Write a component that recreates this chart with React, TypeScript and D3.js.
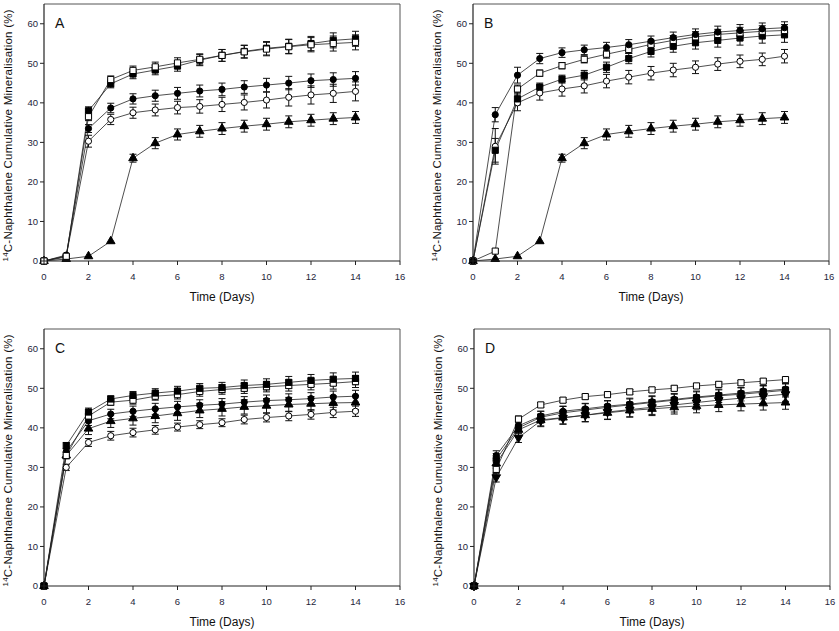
import * as d3 from "d3";

const days = [0, 1, 2, 3, 4, 5, 6, 7, 8, 9, 10, 11, 12, 13, 14];
const xTicks = [0, 2, 4, 6, 8, 10, 12, 14, 16];
const yTicks = [0, 10, 20, 30, 40, 50, 60];

// control (filled triangles) shared by A and B
const control = [0, 0.5, 1.2, 5.0, 26.0, 29.8, 32.0, 32.8, 33.5, 34.1, 34.6, 35.2, 35.6, 36.0, 36.3];
const controlErr = [0, 0.2, 0.3, 0.3, 1.0, 1.4, 1.4, 1.5, 1.5, 1.5, 1.5, 1.5, 1.5, 1.5, 1.5];

// panel A
const aFilledSquare = [0, 1.0, 38.0, 44.8, 47.3, 48.3, 49.3, 50.8, 52.0, 53.0, 53.8, 54.3, 55.0, 55.8, 56.2];
const aFilledSquareErr = [0, 0.3, 1.0, 1.0, 1.2, 1.2, 1.3, 1.4, 1.5, 1.6, 1.7, 1.8, 1.8, 1.9, 1.9];
const aOpenSquare = [0, 1.2, 36.5, 45.9, 48.2, 49.1, 50.1, 51.0, 52.0, 52.9, 53.6, 54.2, 54.7, 55.0, 55.3];
const aOpenSquareErr = [0, 0.3, 1.0, 0.9, 1.1, 1.2, 1.3, 1.4, 1.5, 1.6, 1.7, 1.8, 1.8, 1.9, 1.9];
const aFilledCircle = [0, 1.5, 33.5, 38.7, 41.0, 41.8, 42.4, 43.0, 43.4, 44.0, 44.5, 45.0, 45.6, 45.9, 46.2];
const aFilledCircleErr = [0, 0.3, 1.0, 1.2, 1.3, 1.4, 1.5, 1.5, 1.6, 1.6, 1.7, 1.7, 1.7, 1.7, 1.7];
const aOpenCircle = [0, 1.3, 30.3, 35.8, 37.5, 38.2, 38.8, 39.1, 39.6, 40.1, 40.7, 41.4, 42.0, 42.4, 42.9];
const aOpenCircleErr = [0, 0.3, 1.5, 1.3, 1.4, 1.5, 1.6, 1.7, 1.8, 1.9, 2.0, 2.2, 2.3, 2.3, 2.4];

// panel B
const bFilledCircle = [0, 37.0, 47.0, 51.2, 52.7, 53.4, 54.0, 54.7, 55.6, 56.5, 57.3, 57.9, 58.3, 58.7, 59.0];
const bFilledCircleErr = [0, 1.8, 2.0, 1.3, 1.2, 1.2, 1.3, 1.3, 1.3, 1.4, 1.4, 1.5, 1.5, 1.5, 1.5];
const bOpenSquare = [0, 2.5, 43.5, 47.5, 49.4, 51.0, 52.3, 53.5, 54.8, 55.8, 56.7, 57.3, 57.7, 58.1, 58.3];
const bOpenSquareErr = [0, 0.3, 1.0, 0.8, 0.8, 0.9, 1.0, 1.0, 1.1, 1.2, 1.3, 1.3, 1.4, 1.4, 1.5];
const bFilledSquare = [0, 28.0, 41.0, 44.0, 46.0, 47.0, 49.0, 51.2, 53.0, 54.3, 55.2, 55.8, 56.4, 56.9, 57.2];
const bFilledSquareErr = [0, 3.0, 1.5, 1.0, 1.0, 1.2, 1.3, 1.3, 1.4, 1.5, 1.6, 1.7, 1.8, 1.8, 1.9];
const bOpenCircle = [0, 29.0, 40.0, 42.5, 43.5, 44.3, 45.5, 46.5, 47.5, 48.3, 49.0, 49.8, 50.5, 51.0, 51.8];
const bOpenCircleErr = [0, 4.5, 2.0, 1.8, 1.8, 1.8, 1.7, 1.7, 1.7, 1.7, 1.6, 1.6, 1.6, 1.6, 1.7];

// panel C
const cFilledSquare = [0, 35.5, 44.0, 47.3, 48.2, 48.8, 49.3, 50.0, 50.2, 50.7, 51.0, 51.5, 52.0, 52.3, 52.5];
const cFilledSquareErr = [0, 0.8, 1.0, 0.8, 1.0, 1.1, 1.2, 1.2, 1.3, 1.4, 1.4, 1.5, 1.5, 1.6, 1.6];
const cOpenSquare = [0, 33.0, 43.0, 46.5, 47.0, 48.0, 48.4, 49.2, 49.7, 50.0, 50.4, 50.7, 51.0, 51.3, 51.7];
const cOpenSquareErr = [0, 0.8, 1.0, 0.8, 1.0, 1.0, 1.1, 1.2, 1.2, 1.3, 1.3, 1.4, 1.4, 1.5, 1.5];
const cFilledCircle = [0, 34.0, 41.8, 43.5, 44.2, 44.8, 45.3, 45.7, 46.0, 46.5, 46.9, 47.1, 47.4, 47.8, 48.0];
const cFilledCircleErr = [0, 0.8, 1.2, 1.2, 1.3, 1.4, 1.4, 1.4, 1.4, 1.4, 1.4, 1.5, 1.5, 1.5, 1.5];
const cFilledTriangle = [0, 33.0, 39.8, 41.7, 42.4, 43.0, 43.7, 44.4, 44.8, 45.3, 45.6, 45.9, 46.1, 46.3, 46.4];
const cFilledTriangleErr = [0, 0.8, 1.5, 1.6, 1.7, 1.7, 1.8, 1.8, 1.8, 1.8, 1.8, 1.8, 1.8, 1.8, 1.8];
const cOpenCircle = [0, 30.0, 36.3, 38.0, 38.8, 39.5, 40.2, 40.8, 41.3, 42.1, 42.6, 43.0, 43.4, 43.9, 44.2];
const cOpenCircleErr = [0, 0.8, 1.0, 1.1, 1.1, 1.1, 1.0, 1.0, 1.0, 1.1, 1.1, 1.2, 1.2, 1.3, 1.3];

// panel D
const dOpenSquare = [0, 29.5, 42.2, 45.8, 47.0, 47.9, 48.4, 49.1, 49.6, 50.0, 50.6, 51.0, 51.4, 51.8, 52.2];
const dOpenSquareErr = [0, 1.0, 0.8, 0.6, 0.6, 0.6, 0.6, 0.6, 0.6, 0.6, 0.6, 0.6, 0.6, 0.6, 0.6];
const dFilledSquare = [0, 32.0, 40.0, 42.7, 43.8, 44.5, 45.2, 45.8, 46.4, 47.0, 47.6, 48.1, 48.5, 49.0, 49.5];
const dFilledSquareErr = [0, 1.5, 1.5, 1.5, 1.6, 1.7, 1.7, 1.7, 1.7, 1.7, 1.7, 1.7, 1.7, 1.7, 1.7];
const dFilledCircle = [0, 33.0, 40.5, 43.0, 44.2, 44.8, 45.5, 46.0, 46.6, 47.2, 47.8, 48.3, 48.8, 49.3, 49.8];
const dFilledCircleErr = [0, 1.2, 1.2, 1.2, 1.3, 1.3, 1.3, 1.3, 1.3, 1.3, 1.3, 1.3, 1.3, 1.3, 1.3];
const dFilledDownTriangle = [0, 27.5, 37.5, 41.8, 42.5, 43.2, 44.0, 44.6, 45.2, 45.8, 46.4, 47.0, 47.5, 48.0, 48.5];
const dFilledDownTriangleErr = [0, 1.2, 1.2, 1.5, 1.6, 1.7, 1.8, 1.8, 1.8, 1.8, 1.8, 1.8, 1.8, 1.8, 1.8];
const dFilledTriangle = [0, 31.0, 39.5, 42.0, 42.6, 43.2, 43.8, 44.4, 44.8, 45.2, 45.5, 45.8, 46.0, 46.2, 46.4];
const dFilledTriangleErr = [0, 1.2, 1.5, 1.5, 1.6, 1.6, 1.7, 1.7, 1.7, 1.7, 1.7, 1.7, 1.7, 1.7, 1.7];

type Marker = "filledCircle" | "openCircle" | "filledSquare" | "openSquare" | "filledTriangle" | "filledDownTriangle";
type Series = { marker: Marker; values: number[]; errors: number[] };
type PanelData = { label: string; series: Series[] };

const panels: PanelData[] = [
  {
    label: "A",
    series: [
      { marker: "filledTriangle", values: control, errors: controlErr },
      { marker: "openCircle", values: aOpenCircle, errors: aOpenCircleErr },
      { marker: "filledCircle", values: aFilledCircle, errors: aFilledCircleErr },
      { marker: "filledSquare", values: aFilledSquare, errors: aFilledSquareErr },
      { marker: "openSquare", values: aOpenSquare, errors: aOpenSquareErr },
    ],
  },
  {
    label: "B",
    series: [
      { marker: "filledTriangle", values: control, errors: controlErr },
      { marker: "openCircle", values: bOpenCircle, errors: bOpenCircleErr },
      { marker: "filledSquare", values: bFilledSquare, errors: bFilledSquareErr },
      { marker: "openSquare", values: bOpenSquare, errors: bOpenSquareErr },
      { marker: "filledCircle", values: bFilledCircle, errors: bFilledCircleErr },
    ],
  },
  {
    label: "C",
    series: [
      { marker: "openCircle", values: cOpenCircle, errors: cOpenCircleErr },
      { marker: "filledTriangle", values: cFilledTriangle, errors: cFilledTriangleErr },
      { marker: "filledCircle", values: cFilledCircle, errors: cFilledCircleErr },
      { marker: "openSquare", values: cOpenSquare, errors: cOpenSquareErr },
      { marker: "filledSquare", values: cFilledSquare, errors: cFilledSquareErr },
    ],
  },
  {
    label: "D",
    series: [
      { marker: "openSquare", values: dOpenSquare, errors: dOpenSquareErr },
      { marker: "filledTriangle", values: dFilledTriangle, errors: dFilledTriangleErr },
      { marker: "filledDownTriangle", values: dFilledDownTriangle, errors: dFilledDownTriangleErr },
      { marker: "filledCircle", values: dFilledCircle, errors: dFilledCircleErr },
      { marker: "filledSquare", values: dFilledSquare, errors: dFilledSquareErr },
    ],
  },
];

const font = "'Liberation Sans', Arial, sans-serif";

function symbolPath(marker: Marker) {
  if (marker === "filledCircle" || marker === "openCircle") return d3.symbol(d3.symbolCircle, 30)() ?? "";
  if (marker === "filledSquare" || marker === "openSquare") return d3.symbol(d3.symbolSquare, 38)() ?? "";
  return d3.symbol(d3.symbolTriangle, 32)() ?? "";
}

function Panel({ data, left, top }: { data: PanelData; left: number; top: number }) {
  const width = 356;
  const height = 257;
  const x = d3.scaleLinear().domain([0, 16]).range([left, left + width]);
  const y = d3.scaleLinear().domain([0, 65]).range([top + height, top]);
  const line = d3.line<number>().x((_, i) => x(days[i])).y((v) => y(v));
  const bottom = top + height;

  return (
    <g fontFamily={font}>
      <line x1={left} x2={left + width} y1={top} y2={top} stroke="#555" strokeWidth={1} />
      <line x1={left + width} x2={left + width} y1={top} y2={bottom} stroke="#555" strokeWidth={1} />
      {data.series.map((s, si) => (
        <path key={`l${si}`} d={line(s.values) ?? ""} fill="none" stroke="#222" strokeWidth={0.8} />
      ))}
      {data.series.map((s, si) => (
        <g key={`e${si}`} stroke="#111" strokeWidth={1}>
          {s.values.map((v, i) =>
            s.errors[i] > 0.4 ? (
              <g key={i}>
                <line x1={x(days[i])} x2={x(days[i])} y1={y(v - s.errors[i])} y2={y(v + s.errors[i])} />
                <line x1={x(days[i]) - 3.5} x2={x(days[i]) + 3.5} y1={y(v - s.errors[i])} y2={y(v - s.errors[i])} />
                <line x1={x(days[i]) - 3.5} x2={x(days[i]) + 3.5} y1={y(v + s.errors[i])} y2={y(v + s.errors[i])} />
              </g>
            ) : null
          )}
        </g>
      ))}
      {data.series.map((s, si) => {
        const open = s.marker === "openCircle" || s.marker === "openSquare";
        const rotate = s.marker === "filledDownTriangle" ? " rotate(180)" : "";
        return (
          <g key={`m${si}`}>
            {s.values.map((v, i) => (
              <path
                key={i}
                d={symbolPath(s.marker)}
                transform={`translate(${x(days[i])},${y(v)})${rotate}`}
                fill={open ? "#fff" : "#000"}
                stroke="#000"
                strokeWidth={1}
              />
            ))}
          </g>
        );
      })}
      <line x1={left} x2={left} y1={top} y2={bottom} stroke="#222" strokeWidth={1.2} />
      <line x1={left} x2={left + width} y1={bottom} y2={bottom} stroke="#222" strokeWidth={1.2} />
      {yTicks.map((t) => (
        <g key={`y${t}`}>
          <line x1={left - 4} x2={left} y1={y(t)} y2={y(t)} stroke="#222" />
          <text x={left - 6} y={y(t) + 3.3} textAnchor="end" fontSize={9.5} fill="#1e1e3a">{t}</text>
        </g>
      ))}
      {xTicks.map((t) => (
        <g key={`x${t}`}>
          <line x1={x(t)} x2={x(t)} y1={bottom} y2={bottom + 4} stroke="#222" />
          <text x={x(t)} y={bottom + 19} textAnchor="middle" fontSize={9.5} fill="#1e1e3a">{t}</text>
        </g>
      ))}
      <text x={left + 11} y={top + 24} fontSize={14} fill="#111">{data.label}</text>
      <text x={(left + left + width) / 2} y={bottom + 40} textAnchor="middle" fontSize={12} fill="#111">Time (Days)</text>
      <text
        transform={`translate(${left - 32},${(top + bottom) / 2 + 3}) rotate(-90)`}
        textAnchor="middle"
        fontSize={11.5}
        fill="#111"
        textLength={252}
        lengthAdjust="spacing"
      >
        <tspan fontSize={8} dy={-4}>14</tspan>
        <tspan dy={4}>C-Naphthalene Cumulative Mineralisation (%)</tspan>
      </text>
    </g>
  );
}

export default function App() {
  const positions = [
    { left: 44, top: 4 },
    { left: 473, top: 4 },
    { left: 44, top: 329 },
    { left: 474, top: 329 },
  ];
  return (
    <svg width={839} height={631} style={{ position: "absolute", left: 0, top: 0, background: "#fff" }}>
      <rect width={839} height={631} fill="#fff" />
      {panels.map((p, i) => (
        <Panel key={p.label} data={p} left={positions[i].left} top={positions[i].top} />
      ))}
    </svg>
  );
}
